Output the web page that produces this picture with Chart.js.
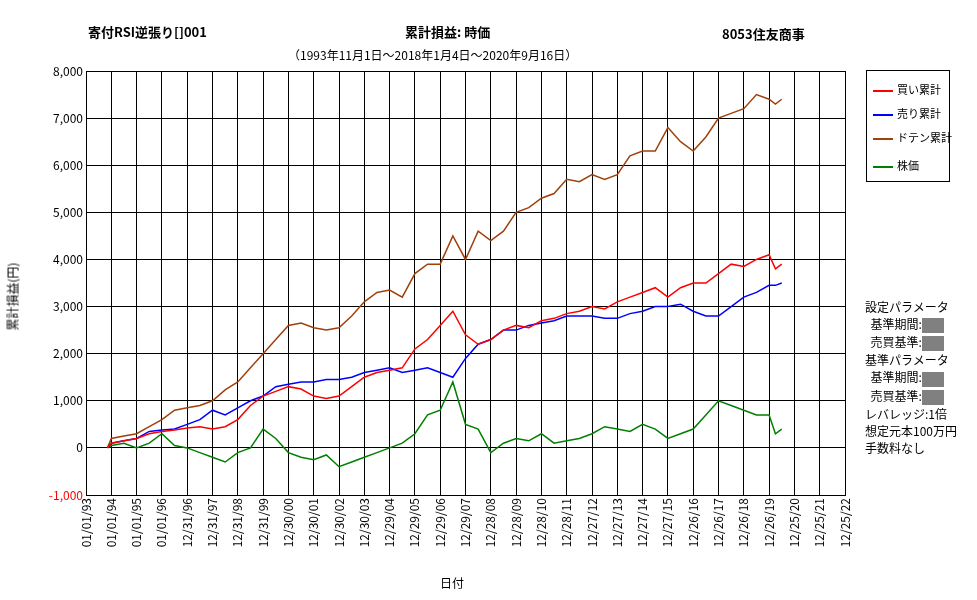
<!DOCTYPE html>
<html><head><meta charset="utf-8">
<script src="https://cdn.jsdelivr.net/npm/chart.js@4"></script>
<style>
body{margin:0;background:#fff;font-family:"Noto Sans CJK JP",sans-serif;}
#wrap{position:relative;width:977px;height:600px;}
.t{position:absolute;font-size:13px;color:#000;white-space:nowrap;}
#leg{position:absolute;left:866px;top:70px;width:82px;height:110px;border:1px solid #000;font-size:11px;white-space:nowrap;}
#leg div{position:absolute;left:6px;}
#leg span{display:inline-block;width:20px;height:2px;vertical-align:middle;margin-right:4px;}
.g{display:inline-block;width:22px;height:15px;background:#808080;vertical-align:middle;}
</style></head><body>
<div id="wrap">
<canvas id="c" width="977" height="600"></canvas>
<div class="t" style="left:88px;top:22px;font-weight:bold">寄付RSI逆張り[]001</div>
<div class="t" style="left:405px;top:22px;font-weight:bold">累計損益:&nbsp;時価</div>
<div class="t" style="left:722px;top:24px;font-weight:bold">8053住友商事</div>
<div class="t" style="left:288px;top:46px;font-size:12px">（1993年11月1日～2018年1月4日～2020年9月16日）</div>
<div class="t" style="left:440px;top:574px;font-size:12px">日付</div>
<div class="t" style="left:-22px;top:288px;font-size:12px;font-weight:normal;transform:rotate(-90deg)">累計損益(円)</div>
<div id="leg">
<div style="top:10px"><span style="background:#ff0000"></span>買い累計</div>
<div style="top:34px"><span style="background:#0000ff"></span>売り累計</div>
<div style="top:58px"><span style="background:#a0400a"></span>ドテン累計</div>
<div style="top:86px"><span style="background:#008000"></span>株価</div>
</div>
<div class="t" style="left:865px;top:298px;font-size:12px;line-height:17px">設定パラメータ<br>&nbsp;&nbsp;基準期間:<span class="g"></span><br>&nbsp;&nbsp;売買基準:<span class="g"></span><br>基準パラメータ<br>&nbsp;&nbsp;基準期間:<span class="g"></span><br>&nbsp;&nbsp;売買基準:<span class="g"></span><br>レバレッジ:1倍<br>想定元本100万円<br>手数料なし</div>
</div>
<script>
const xLabels=["01/01/93","01/01/94","01/01/95","01/01/96","12/31/96","12/31/97","12/31/98","12/31/99","12/30/00","12/30/01","12/30/02","12/30/03","12/29/04","12/29/05","12/29/06","12/29/07","12/28/08","12/28/09","12/28/10","12/28/11","12/27/12","12/27/13","12/27/14","12/27/15","12/26/16","12/26/17","12/26/18","12/26/19","12/25/20","12/25/21","12/25/22"];
const years=[0.85,1,1.5,2,2.5,3,3.5,4,4.5,5,5.5,6,6.5,7,7.5,8,8.5,9,9.5,10,10.5,11,11.5,12,12.5,13,13.5,14,14.5,15,15.5,16,16.5,17,17.5,18,18.5,19,19.5,20,20.5,21,21.5,22,22.5,23,23.5,24,24.5,25,25.5,26,26.5,27,27.25,27.5];
const buyCum=[0,100,150,200,300,350,380,420,450,400,450,600,900,1100,1200,1300,1250,1100,1050,1100,1300,1500,1600,1650,1700,2100,2300,2600,2900,2400,2200,2300,2500,2600,2550,2700,2750,2850,2900,3000,2950,3100,3200,3300,3400,3200,3400,3500,3500,3700,3900,3850,4000,4100,3800,3900];
const sellCum=[0,100,150,200,350,380,400,500,600,800,700,850,1000,1100,1300,1350,1400,1400,1450,1450,1500,1600,1650,1700,1600,1650,1700,1600,1500,1900,2200,2300,2500,2500,2600,2650,2700,2800,2800,2800,2750,2750,2850,2900,3000,3000,3050,2900,2800,2800,3000,3200,3300,3450,3450,3500];
const dotenCum=[0,200,250,300,450,600,800,850,900,1000,1230,1400,1700,2000,2300,2600,2650,2550,2500,2550,2800,3100,3300,3350,3200,3700,3900,3900,4500,4000,4600,4400,4600,5000,5100,5300,5400,5700,5650,5800,5700,5800,6200,6300,6300,6800,6500,6300,6600,7000,7100,7200,7500,7400,7300,7400];
const stock=[0,50,100,0,100,300,50,0,-100,-200,-300,-100,0,400,200,-100,-200,-250,-150,-400,-300,-200,-100,0,100,300,700,800,1400,500,400,-100,100,200,150,300,100,150,200,300,450,400,350,500,400,200,300,400,700,1000,900,800,700,700,300,400];
const mk=(d,c)=>({data:years.map((x,i)=>({x,y:d[i]})),borderColor:c,borderWidth:1.5,pointRadius:0,tension:0});
const font={family:"Noto Sans CJK JP",size:12};
new Chart(document.getElementById('c'),{type:'line',
data:{datasets:[mk(buyCum,'#ff0000'),mk(sellCum,'#0000ff'),mk(dotenCum,'#a0400a'),mk(stock,'#008000')]},
options:{responsive:false,animation:false,layout:{padding:{left:0,right:132,top:71,bottom:0}},
plugins:{legend:{display:false},tooltip:{enabled:false}},
scales:{
x:{type:'linear',min:0,max:30,afterFit:s=>{s.height=105;},
 afterBuildTicks:s=>{s.ticks=xLabels.map((_,i)=>({value:i}));},
 ticks:{autoSkip:false,maxRotation:90,minRotation:90,color:'#000',font,callback:(v)=>xLabels[v]},
 grid:{color:'#000',drawTicks:false},border:{color:'#000'}},
y:{min:-1000,max:8000,afterFit:s=>{s.width=86;},
 ticks:{stepSize:1000,color:c=>c.tick.value<0?'#ff0000':'#000',font,callback:v=>v.toLocaleString('en-US')},
 grid:{color:'#000',drawTicks:false},border:{color:'#000'}}
}}});
</script></body></html>
